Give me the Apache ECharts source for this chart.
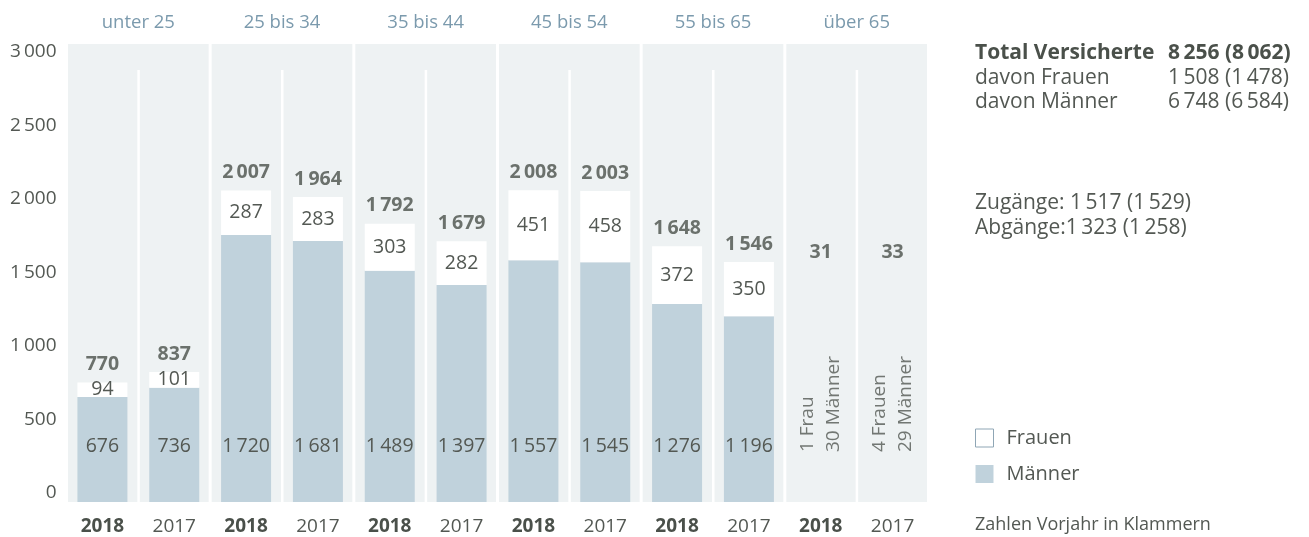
<!DOCTYPE html>
<html>
<head>
<meta charset="utf-8">
<script src="https://cdn.jsdelivr.net/npm/echarts@6/dist/echarts.min.js"></script>
<style>
  html, body { margin: 0; padding: 0; background: #fff; }
  #chart { width: 1309px; height: 537px; }
</style>
</head>
<body>
<div id="chart"></div>
<script>
// Altersgruppen und Jahre
const groups = ['unter 25', '25 bis 34', '35 bis 44', '45 bis 54', '55 bis 65', 'über 65'];
const years = ['2018', '2017'];
const categories = groups.flatMap(() => years);

// Versicherte je Altersgruppe (2018, 2017)
const maenner = [676, 736, 1720, 1681, 1489, 1397, 1557, 1545, 1276, 1196, 30, 29];
const frauen = [94, 101, 287, 283, 303, 282, 451, 458, 372, 350, 1, 4];
const totals = [770, 837, 2007, 1964, 1792, 1679, 2008, 2003, 1648, 1546, 31, 33];

// Zusammenfassung (aktuell, Vorjahr)
const totalVersicherte = [8256, 8062];
const davonFrauen = [1508, 1478];
const davonMaenner = [6748, 6584];
const zugaenge = [1517, 1529];
const abgaenge = [1323, 1258];

const FONT = "'Open Sans', 'DejaVu Sans', sans-serif";
const TEXT = '#535853';
const BOLD = '#4a504a';
const BLUE = '#c0d2dc';
const PANEL = '#eef2f3';
const GROUP_TXT = '#7b9aad';
const LBL = 19.5;

// die Gruppe "über 65" wird ohne Balken, nur beschriftet gezeigt
const ueberIdx = 10;

const fmt = n => n >= 1000 ? String(n).replace(/\B(?=(\d{3})+(?!\d))/g, '\u2009') : String(n);
const pair = a => fmt(a[0]) + ' (' + fmt(a[1]) + ')';

const chart = echarts.init(document.getElementById('chart'));

const barItems = (arr) => arr.map((v, i) => i < ueberIdx ? v : {
  value: v, itemStyle: { opacity: 0 }, label: { show: false }
});

const sideText = (x, y, text, bold, size) => ({
  type: 'text', x: x, y: y,
  style: {
    text: text, fontSize: size || 21, fontWeight: bold ? 'bold' : 'normal',
    fontFamily: FONT, fill: bold ? BOLD : TEXT, verticalAlign: 'middle'
  }
});

const option = {
  animation: false,
  grid: [
    { left: 66.5, right: 380.5, top: 44, bottom: 35 },
    { left: 66.5, right: 380.5, top: 52, bottom: 44 }
  ],
  xAxis: [
    {
      type: 'category', gridIndex: 0, data: categories,
      axisLine: { show: false }, axisTick: { show: false },
      axisLabel: {
        interval: 0, margin: 15, fontSize: 19, fontFamily: FONT, color: TEXT,
        formatter: (v, i) => i % 2 === 0 ? '{b|' + v + '}' : v,
        rich: { b: { fontWeight: 'bold', fontSize: 19, fontFamily: FONT, color: BOLD } }
      }
    },
    {
      type: 'category', gridIndex: 0, position: 'top', data: groups,
      axisLine: { show: false }, axisTick: { show: false },
      axisLabel: { interval: 0, margin: 12, fontSize: 18.5, fontFamily: FONT, color: GROUP_TXT }
    },
    { type: 'category', gridIndex: 1, data: categories, show: false }
  ],
  yAxis: [
    { type: 'value', gridIndex: 0, min: 0, max: 2950, show: false },
    {
      type: 'value', gridIndex: 1, min: 0, max: 3000, interval: 500,
      axisLine: { show: false }, axisTick: { show: false }, splitLine: { show: false },
      axisLabel: { margin: 10, fontSize: 19, fontFamily: FONT, color: TEXT, formatter: v => fmt(v) }
    }
  ],
  legend: {
    orient: 'vertical', left: 975, top: 428, padding: 0,
    icon: 'rect', itemWidth: 18, itemHeight: 18, itemGap: 16,
    textStyle: { fontSize: 20, lineHeight: 18, fontFamily: FONT, color: TEXT, padding: [0, 0, 0, 8] },
    data: [
      { name: 'Frauen', itemStyle: { color: '#fff', borderColor: '#8fa6b5', borderWidth: 1 } },
      { name: 'Männer' }
    ]
  },
  series: [
    {
      // graue Felder je Altersgruppe mit weisser Trennlinie zwischen den Jahren
      type: 'custom', xAxisIndex: 0, yAxisIndex: 0, z: 0, silent: true,
      data: groups.map((g, i) => [i]),
      renderItem: (params, api) => {
        const cs = params.coordSys;
        const w = cs.width / categories.length;
        const g = api.value(0);
        const x0 = cs.x + g * 2 * w;
        return {
          type: 'group',
          children: [
            { type: 'rect', shape: { x: x0 + 1.5, y: cs.y, width: 2 * w - 3, height: cs.height }, style: { fill: PANEL } },
            { type: 'rect', shape: { x: x0 + w - 1, y: cs.y + 26, width: 2.5, height: cs.height - 26 }, style: { fill: '#fff' } }
          ]
        };
      }
    },
    {
      name: 'Männer', type: 'bar', stack: 'v', xAxisIndex: 0, yAxisIndex: 0, barWidth: 50,
      itemStyle: { color: BLUE },
      label: { show: true, position: 'insideBottom', distance: 46, fontSize: LBL, fontFamily: FONT, color: TEXT, formatter: p => fmt(p.value) },
      data: barItems(maenner)
    },
    {
      name: 'Frauen', type: 'bar', stack: 'v', xAxisIndex: 0, yAxisIndex: 0, barWidth: 50,
      itemStyle: { color: '#fff' },
      label: { show: true, position: 'inside', fontSize: LBL, fontFamily: FONT, color: TEXT, formatter: p => fmt(p.value) },
      data: barItems(frauen)
    },
    {
      name: 'Total', type: 'scatter', xAxisIndex: 0, yAxisIndex: 0, symbolSize: 0, silent: true,
      label: { show: true, position: 'top', distance: 8, fontSize: LBL, fontWeight: 'bold', fontFamily: FONT, color: BOLD, formatter: p => fmt(p.value[1]) },
      data: totals.slice(0, ueberIdx).map((v, i) => [i, v])
    },
    {
      name: 'Total über 65', type: 'scatter', xAxisIndex: 0, yAxisIndex: 0, symbolSize: 0, silent: true,
      label: { show: true, position: 'inside', fontSize: LBL, fontWeight: 'bold', fontFamily: FONT, color: BOLD, formatter: p => fmt(totals[p.value[0]]) },
      data: [[ueberIdx, 1605], [ueberIdx + 1, 1605]]
    },
    {
      name: 'Detail über 65', type: 'scatter', xAxisIndex: 0, yAxisIndex: 0, symbolSize: 0, silent: true,
      label: {
        show: true, position: 'inside', rotate: 90, align: 'left', verticalAlign: 'middle',
        fontSize: 19, lineHeight: 26, fontFamily: FONT, color: TEXT,
        formatter: p => {
          const i = p.value[0];
          const f = frauen[i], m = maenner[i];
          return f + (f === 1 ? ' Frau' : ' Frauen') + '\n' + m + ' Männer';
        }
      },
      data: [[ueberIdx, 322], [ueberIdx + 1, 322]]
    }
  ],
  graphic: [
    sideText(975, 53, 'Total Versicherte', true),
    sideText(1168, 53, pair(totalVersicherte), true),
    sideText(975, 78, 'davon Frauen'),
    sideText(1168, 78, pair(davonFrauen)),
    sideText(975, 102, 'davon Männer'),
    sideText(1168, 102, pair(davonMaenner)),
    sideText(975, 203, 'Zugänge: ' + pair(zugaenge)),
    sideText(975, 228, 'Abgänge:' + pair(abgaenge)),
    sideText(975, 525, 'Zahlen Vorjahr in Klammern', false, 18)
  ]
};

chart.setOption(option);
</script>
</body>
</html>
